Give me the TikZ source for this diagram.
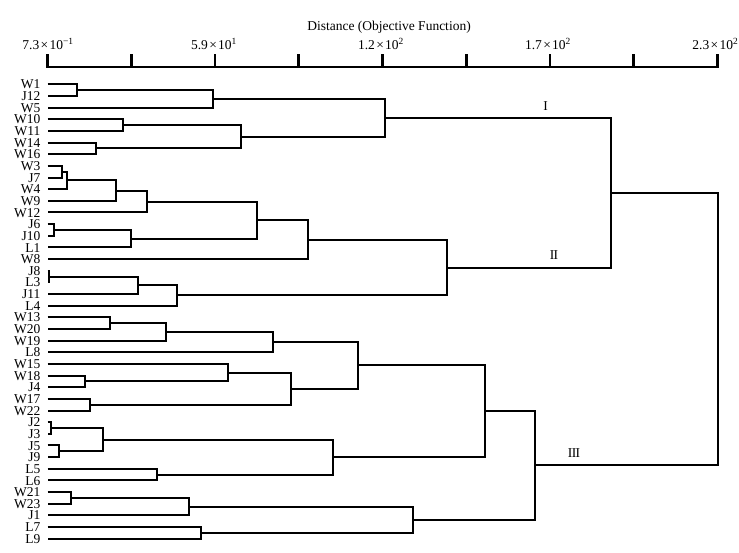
\documentclass[tikz,border=0pt]{standalone}
\usepackage{fontspec}
\setmainfont{Liberation Serif}
\usetikzlibrary{calc}
\tikzset{
  dline/.style={line width=2pt, line join=miter},
  axisline/.style={line width=2.6pt},
  leaflabel/.style={anchor=base east, inner sep=0pt, text height=9.3pt, text depth=0.3pt, font=\fontsize{13.5}{15}\selectfont},
  ticklabel/.style={anchor=base, inner sep=0pt, font=\fontsize{13.5}{15}\selectfont},
  titlelabel/.style={anchor=base, inner sep=0pt, font=\fontsize{13.5}{15}\selectfont},
  clusterlabel/.style={anchor=base, inner sep=0pt, font=\fontsize{13.5}{15}\selectfont},
}
\newcommand\mrg[4]{%
  \path let \p1=($(#2)!.5!(#3)$) in coordinate (#1) at (#4pt,\y1);
  \draw[dline] (#2) -| (#1) |- (#3);}
\newcommand\tms{\kern0.1em×\kern0.1em}
\begin{document}
\begin{tikzpicture}[x=1pt,y=-1pt]
\useasboundingbox (0,0) rectangle (739,552);
% title and axis
\node[titlelabel] (title) at (389,30) {Distance (Objective Function)};
\foreach \i in {0,...,8}{
  \coordinate (tk\i) at ({47.5+83.75*\i},67);
  \coordinate (tt\i) at ({47.5+83.75*\i},53.5);
  \draw[axisline] (tk\i) -- (tt\i);
}
\draw[axisline,line cap=rect] (tk0) -- (tk8);
\node[ticklabel] (l0) at (48,49.3) {7.3\tms10\textsuperscript{−1}};
\node[ticklabel] (l1) at (214,49.3) {5.9\tms10\textsuperscript{1}};
\node[ticklabel] (l2) at (381,49.3) {1.2\tms10\textsuperscript{2}};
\node[ticklabel] (l3) at (548,49.3) {1.7\tms10\textsuperscript{2}};
\node[ticklabel,anchor=base east] (l4) at (738.5,49.3) {2.3\tms10\textsuperscript{2}};
% leaves
\foreach \n [count=\k from 0] in {W1,J12,W5,W10,W11,W14,W16,W3,J7,W4,W9,W12,J6,J10,L1,W8,J8,L3,J11,L4,W13,W20,W19,L8,W15,W18,J4,W17,W22,J2,J3,J5,J9,L5,L6,W21,W23,J1,L7,L9}{
  \coordinate (\n) at (47.5,{84.3+11.65*\k});
  \node[leaflabel] (lab\n) at (40.5,{84.3+11.65*\k+4.6}) {\n};
}
% cluster I
\mrg{a1}{W1}{J12}{77}
\mrg{a2}{a1}{W5}{213}
\mrg{a3}{W10}{W11}{123}
\mrg{a4}{W14}{W16}{96}
\mrg{a5}{a3}{a4}{241}
\mrg{cI}{a2}{a5}{385}
% cluster II
\mrg{b1}{W3}{J7}{62}
\mrg{b2}{b1}{W4}{67}
\mrg{b3}{b2}{W9}{116}
\mrg{b4}{b3}{W12}{147}
\mrg{b5}{J6}{J10}{54}
\mrg{b6}{b5}{L1}{131}
\mrg{b7}{b4}{b6}{257}
\mrg{b8}{b7}{W8}{307.5}
\mrg{b9}{J8}{L3}{48.5}
\mrg{b10}{b9}{J11}{138}
\mrg{b11}{b10}{L4}{176.5}
\mrg{cII}{b8}{b11}{447}
\mrg{cIandII}{cI}{cII}{610.5}
% cluster III
\mrg{c1}{W13}{W20}{110}
\mrg{c2}{c1}{W19}{166}
\mrg{c3}{c2}{L8}{273}
\mrg{c4}{W18}{J4}{84.5}
\mrg{c5}{W15}{c4}{228}
\mrg{c6}{W17}{W22}{90}
\mrg{c7}{c5}{c6}{290.5}
\mrg{c8}{c3}{c7}{358}
\mrg{c9}{J2}{J3}{50.5}
\mrg{c10}{J5}{J9}{58.5}
\mrg{c11}{c9}{c10}{102.5}
\mrg{c12}{L5}{L6}{156.5}
\mrg{c13}{c11}{c12}{332.5}
\mrg{c14}{c8}{c13}{485}
\mrg{c15}{W21}{W23}{71}
\mrg{c16}{c15}{J1}{188.5}
\mrg{c17}{L7}{L9}{200.5}
\mrg{c18}{c16}{c17}{413}
\mrg{cIII}{c14}{c18}{535}
\mrg{root}{cIandII}{cIII}{717.5}
% cluster labels
\node[clusterlabel] (labI) at (545.5,110.7) {I};
\node[clusterlabel] (labII) at (554,259.3) {I\kern-0.04em I};
\node[clusterlabel] (labIII) at (574,457) {I\kern-0.04em I\kern-0.04em I};
\end{tikzpicture}
\end{document}
